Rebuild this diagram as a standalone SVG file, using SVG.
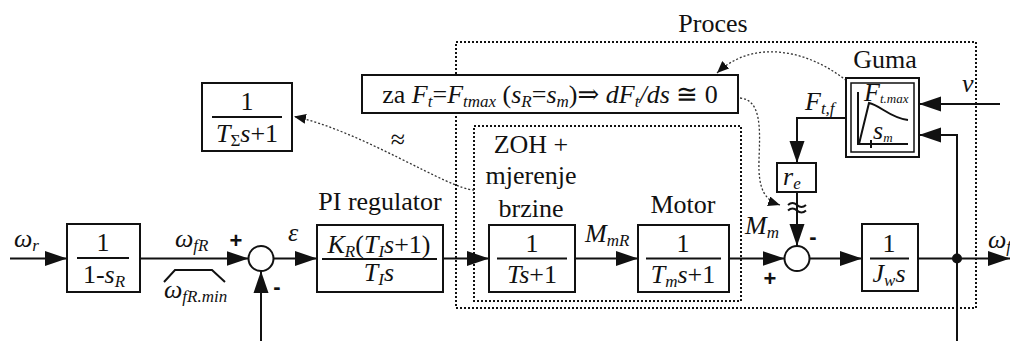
<svg xmlns="http://www.w3.org/2000/svg" width="1010" height="341" viewBox="0 0 1010 341" font-family="'Liberation Serif','DejaVu Serif',serif">
<style>
.t{font-family:"Liberation Serif","DejaVu Serif",serif;font-size:26px;fill:#111}
.i{font-style:italic}
.s{font-size:17px}
.bx{fill:#fff;stroke:#111;stroke-width:2}
.ln{fill:none;stroke:#111;stroke-width:2}
.dt{fill:none;stroke:#111;stroke-width:2;stroke-dasharray:2 2}
.dc{fill:none;stroke:#333;stroke-width:1.3;stroke-dasharray:2 2}
.sg{font-family:"Liberation Sans",Arial,sans-serif;font-size:22px;font-weight:bold;fill:#111}
</style>
<defs>
<marker id="a" markerWidth="22" markerHeight="16" refX="22" refY="8" orient="auto" markerUnits="userSpaceOnUse"><path d="M0,0.5 L22,8 L0,15.5 z" fill="#111"/></marker>
<marker id="d" markerWidth="12" markerHeight="10" refX="12" refY="5" orient="auto" markerUnits="userSpaceOnUse"><path d="M0,0 L12,5 L0,10 z" fill="#111"/></marker>
</defs>

<g id="proces">
<rect class="dt" x="456" y="42" width="520" height="266"/>
<text class="t" x="713" y="32" text-anchor="middle">Proces</text>
</g>
<g id="zohmotor">
<rect class="dt" x="474" y="126" width="267" height="175"/>
</g>

<g id="connectors">
<line class="ln" x1="10" y1="258.5" x2="67" y2="258.5" marker-end="url(#a)"/>
<line class="ln" x1="140" y1="258.5" x2="248.5" y2="258.5" marker-end="url(#a)"/>
<polyline class="ln" points="164,282 175,270 212,270 225,282" stroke-width="1.5"/>
<line class="ln" x1="261" y1="341" x2="261" y2="271" marker-end="url(#a)"/>
<line class="ln" x1="273.5" y1="258.5" x2="317" y2="258.5" marker-end="url(#a)"/>
<line class="ln" x1="443" y1="258.5" x2="489" y2="258.5" marker-end="url(#a)"/>
<line class="ln" x1="575" y1="258.5" x2="638" y2="258.5" marker-end="url(#a)"/>
<line class="ln" x1="729" y1="258.5" x2="784.5" y2="258.5" marker-end="url(#a)"/>
<line class="ln" x1="809.5" y1="258.5" x2="862" y2="258.5" marker-end="url(#a)"/>
<line class="ln" x1="918" y1="258.5" x2="1010" y2="258.5" marker-end="url(#a)"/>
<circle cx="957" cy="258.5" r="5" fill="#111"/>
<polyline class="ln" points="957,341 957,135 919,135" marker-end="url(#a)"/>
<line class="ln" x1="1000" y1="104" x2="919" y2="104" marker-end="url(#a)"/>
<polyline class="ln" points="846,118 797,118 797,163" marker-end="url(#a)"/>
<line class="ln" x1="797" y1="192" x2="797" y2="246" marker-end="url(#a)"/>
<path class="ln" stroke-width="1.5" d="M788,205 q4.5,-4 9,0 t9,0 M788,210.5 q4.5,-4 9,0 t9,0"/>
<path class="dc" d="M474,190 C450,190 360,130 294,116.5" marker-end="url(#d)"/>
<path class="dc" d="M869,103 C830,55 760,32 717,73" marker-end="url(#d)"/>
<path class="dc" d="M740,98 C762,100 760,130 759,160 C758,190 765,200 780,205" marker-end="url(#d)"/>
</g>

<g id="s1">
<circle cx="261" cy="258.5" r="12.5" fill="#fff" stroke="#111" stroke-width="2"/>
<text class="sg" x="236" y="248" text-anchor="middle">+</text>
<text class="sg" x="277" y="294" text-anchor="middle">-</text>
</g>
<g id="s2">
<circle cx="797" cy="258.5" r="12.5" fill="#fff" stroke="#111" stroke-width="2"/>
<text class="sg" x="770" y="286" text-anchor="middle">+</text>
<text class="sg" x="813" y="244" text-anchor="middle">-</text>
</g>

<g id="labels">
<text class="t i" x="14" y="247">ω<tspan class="s" dy="4">r</tspan></text>
<text class="t i" x="175" y="247">ω<tspan class="s" dy="4">fR</tspan></text>
<text class="t i" x="164" y="298">ω<tspan class="s" dy="4">fR.min</tspan></text>
<text class="t i" x="293" y="241" text-anchor="middle">ε</text>
<text class="t i" x="585" y="242">M<tspan class="s" dy="4">mR</tspan></text>
<text class="t i" x="745" y="234">M<tspan class="s" dy="4">m</tspan></text>
<text class="t i" x="805" y="110">F<tspan class="s" dy="4">t,f</tspan></text>
<text class="t i" x="962" y="92">v</text>
<text class="t i" x="988" y="248">ω<tspan class="s" dy="4">f</tspan></text>
<text class="t" x="398" y="148" text-anchor="middle" font-size="22">≈</text>
<text class="t" x="380" y="210" text-anchor="middle">PI regulator</text>
<text class="t" x="531" y="153" text-anchor="middle">ZOH +</text>
<text class="t" x="531" y="184" text-anchor="middle">mjerenje</text>
<text class="t" x="531" y="217" text-anchor="middle">brzine</text>
<text class="t" x="683" y="213" text-anchor="middle">Motor</text>
<text class="t" x="885" y="68" text-anchor="middle">Guma</text>
</g>

<g id="b1">
<rect class="bx" x="67" y="224" width="73" height="68"/>
<line class="ln" x1="77" y1="258" x2="129" y2="258" stroke-width="1.5"/>
<text class="t" x="103" y="251" text-anchor="middle">1</text>
<text class="t" x="104" y="283" text-anchor="middle">1-<tspan class="i">s</tspan><tspan class="i s" dy="4">R</tspan></text>
</g>

<g id="tsum">
<rect class="bx" x="202" y="83" width="90" height="68"/>
<line class="ln" x1="212" y1="117" x2="282" y2="117" stroke-width="1.5"/>
<text class="t" x="247" y="110" text-anchor="middle">1</text>
<text class="t" x="247" y="142" text-anchor="middle"><tspan class="i">T</tspan><tspan class="s" dy="4">Σ</tspan><tspan class="i" dy="-4">s</tspan>+1</text>
</g>

<g id="pi">
<rect class="bx" x="317" y="225" width="126" height="67"/>
<line class="ln" x1="322" y1="259" x2="437" y2="259" stroke-width="1.5"/>
<text class="t" x="379" y="253" text-anchor="middle"><tspan class="i">K</tspan><tspan class="i s" dy="4">R</tspan><tspan dy="-4">(</tspan><tspan class="i">T</tspan><tspan class="i s" dy="4">I</tspan><tspan class="i" dy="-4">s</tspan>+1)</text>
<text class="t" x="379" y="281" text-anchor="middle"><tspan class="i">T</tspan><tspan class="i s" dy="4">I</tspan><tspan class="i" dy="-4">s</tspan></text>
</g>

<g id="zoh">
<rect class="bx" x="489" y="225" width="86" height="67"/>
<line class="ln" x1="497" y1="258.5" x2="567" y2="258.5" stroke-width="1.5"/>
<text class="t" x="532" y="252" text-anchor="middle">1</text>
<text class="t" x="532" y="283" text-anchor="middle"><tspan class="i">Ts</tspan>+1</text>
</g>

<g id="motor">
<rect class="bx" x="638" y="225" width="91" height="67"/>
<line class="ln" x1="646" y1="258.5" x2="721" y2="258.5" stroke-width="1.5"/>
<text class="t" x="683" y="252" text-anchor="middle">1</text>
<text class="t" x="683" y="283" text-anchor="middle"><tspan class="i">T</tspan><tspan class="i s" dy="4">m</tspan><tspan class="i" dy="-4">s</tspan>+1</text>
</g>

<g id="jw">
<rect class="bx" x="862" y="224" width="56" height="67"/>
<line class="ln" x1="870" y1="258.5" x2="909" y2="258.5" stroke-width="1.5"/>
<text class="t" x="889" y="252" text-anchor="middle">1</text>
<text class="t" x="889" y="282" text-anchor="middle"><tspan class="i">J</tspan><tspan class="i s" dy="4">w</tspan><tspan class="i" dy="-4">s</tspan></text>
</g>

<g id="re">
<rect class="bx" x="777" y="163" width="39" height="29"/>
<text class="t i" x="783" y="185">r<tspan class="s" dy="4">e</tspan></text>
</g>

<g id="guma">
<rect class="bx" x="846" y="78" width="73" height="79" stroke-width="2.5"/>
<rect x="851" y="83" width="63" height="69" fill="none" stroke="#111" stroke-width="1.5"/>
<path class="ln" stroke-width="1.5" d="M858,92 L858,144 L908,144 M871,140 L871,148 M859,144 L869,103 C880,105 890,118 908,120"/>
<text class="t i" x="864" y="101" font-size="19">F<tspan font-size="13" dy="2">t.max</tspan></text>
<text class="t i" x="873" y="139" font-size="19">s<tspan font-size="13" dy="3">m</tspan></text>
</g>

<g id="za">
<rect class="bx" x="362" y="75" width="376" height="38"/>
<text class="t" x="550" y="103" text-anchor="middle">za <tspan class="i">F</tspan><tspan class="i s" dy="4">t</tspan><tspan dy="-4">=</tspan><tspan class="i">F</tspan><tspan class="i s" dy="4">tmax</tspan><tspan dy="-4"> (</tspan><tspan class="i">s</tspan><tspan class="i s" dy="4">R</tspan><tspan dy="-4">=</tspan><tspan class="i">s</tspan><tspan class="i s" dy="4">m</tspan><tspan dy="-4">)⇒ </tspan><tspan class="i">dF</tspan><tspan class="i s" dy="4">t</tspan><tspan class="i" dy="-4">/ds</tspan> ≅ 0</text>
</g>
</svg>
